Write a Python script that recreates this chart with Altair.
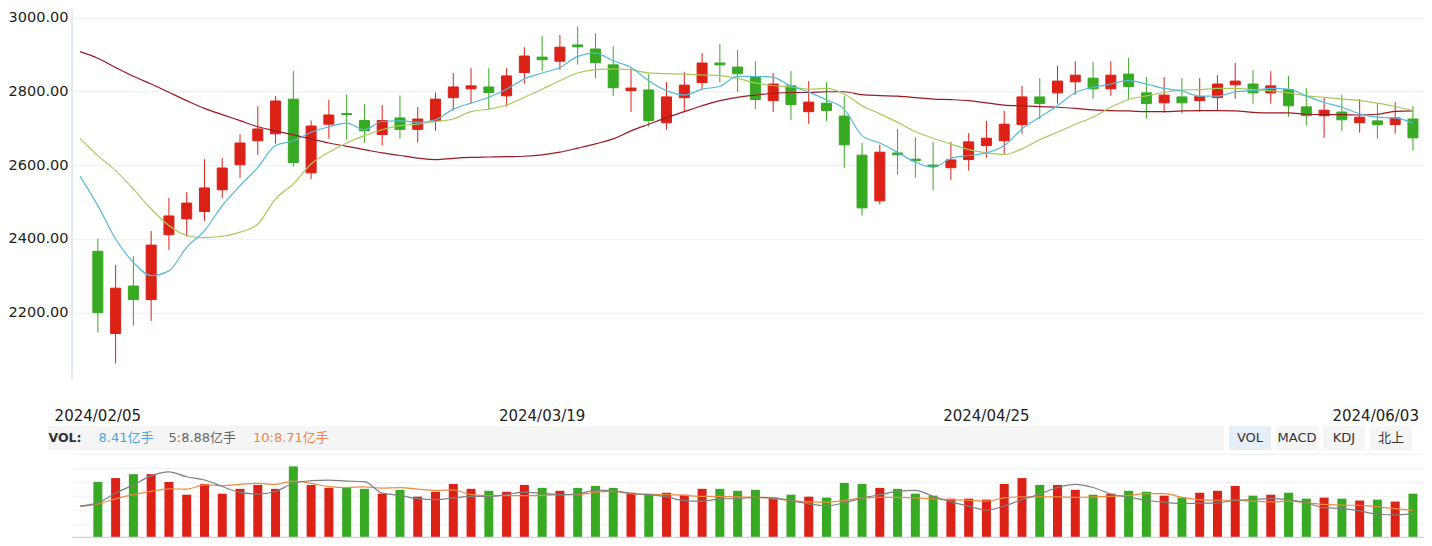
import altair as alt
import pandas as pd

# ---------------- data ----------------
dates = [
    "2024/02/05", "2024/02/06", "2024/02/07", "2024/02/08", "2024/02/19", "2024/02/20", "2024/02/21", "2024/02/22",
    "2024/02/23", "2024/02/26", "2024/02/27", "2024/02/28", "2024/02/29", "2024/03/01", "2024/03/04", "2024/03/05",
    "2024/03/06", "2024/03/07", "2024/03/08", "2024/03/11", "2024/03/12", "2024/03/13", "2024/03/14", "2024/03/15",
    "2024/03/18", "2024/03/19", "2024/03/20", "2024/03/21", "2024/03/22", "2024/03/25", "2024/03/26", "2024/03/27",
    "2024/03/28", "2024/03/29", "2024/04/01", "2024/04/02", "2024/04/03", "2024/04/08", "2024/04/09", "2024/04/10",
    "2024/04/11", "2024/04/12", "2024/04/15", "2024/04/16", "2024/04/17", "2024/04/18", "2024/04/19", "2024/04/22",
    "2024/04/23", "2024/04/24", "2024/04/25", "2024/04/26", "2024/04/29", "2024/04/30", "2024/05/06", "2024/05/07",
    "2024/05/08", "2024/05/09", "2024/05/10", "2024/05/13", "2024/05/14", "2024/05/15", "2024/05/16", "2024/05/17",
    "2024/05/20", "2024/05/21", "2024/05/22", "2024/05/23", "2024/05/24", "2024/05/27", "2024/05/28", "2024/05/29",
    "2024/05/30", "2024/05/31", "2024/06/03",
]

open_ = [2366, 2143, 2272, 2235, 2411, 2454, 2474, 2533, 2601, 2666,
         2685, 2779, 2579, 2711, 2740, 2721, 2683, 2728, 2697, 2720,
         2783, 2807, 2812, 2788, 2851, 2893, 2882, 2926, 2915, 2872,
         2802, 2804, 2715, 2783, 2824, 2877, 2866, 2839, 2775, 2815,
         2745, 2768, 2733, 2627, 2503, 2633, 2616, 2600, 2593, 2615,
         2653, 2666, 2710, 2785, 2796, 2826, 2836, 2807, 2847, 2796,
         2769, 2785, 2775, 2783, 2818, 2820, 2796, 2805, 2758, 2734,
         2744, 2715, 2720, 2710, 2725]
high = [2400, 2329, 2353, 2421, 2511, 2527, 2616, 2619, 2684, 2760,
        2787, 2855, 2721, 2777, 2792, 2765, 2763, 2789, 2758, 2797,
        2850, 2863, 2863, 2863, 2920, 2950, 2953, 2977, 2958, 2923,
        2863, 2847, 2825, 2853, 2904, 2929, 2912, 2882, 2850, 2855,
        2828, 2825, 2787, 2660, 2655, 2698, 2676, 2663, 2663, 2687,
        2720, 2747, 2815, 2836, 2869, 2882, 2880, 2882, 2891, 2839,
        2839, 2836, 2836, 2844, 2877, 2858, 2855, 2842, 2809, 2783,
        2790, 2779, 2768, 2771, 2760]
low = [2146, 2062, 2164, 2177, 2370, 2406, 2449, 2511, 2565, 2628,
       2658, 2596, 2562, 2672, 2669, 2661, 2653, 2672, 2661, 2693,
       2748, 2767, 2751, 2759, 2821, 2855, 2858, 2873, 2836, 2788,
       2744, 2704, 2696, 2746, 2805, 2824, 2798, 2752, 2744, 2722,
       2712, 2720, 2593, 2463, 2493, 2574, 2566, 2531, 2560, 2585,
       2620, 2630, 2685, 2725, 2767, 2791, 2780, 2788, 2780, 2726,
       2742, 2740, 2745, 2748, 2780, 2767, 2767, 2731, 2707, 2674,
       2693, 2688, 2672, 2685, 2639]
close = [2200, 2266, 2235, 2383, 2462, 2497, 2538, 2592, 2660, 2698,
         2774, 2607, 2706, 2736, 2737, 2693, 2721, 2697, 2725, 2779,
         2812, 2815, 2797, 2842, 2896, 2886, 2920, 2921, 2878, 2810,
         2809, 2721, 2785, 2817, 2877, 2872, 2848, 2778, 2820, 2764,
         2771, 2748, 2655, 2484, 2635, 2628, 2612, 2596, 2614, 2663,
         2673, 2711, 2785, 2767, 2828, 2844, 2807, 2844, 2813, 2767,
         2790, 2769, 2786, 2820, 2828, 2796, 2815, 2761, 2734, 2749,
         2723, 2730, 2710, 2728, 2674]
volume = [10.00, 10.70, 11.40, 11.40, 10.00, 7.73, 9.65, 7.91, 8.78, 9.48,
          8.78, 12.79, 9.48, 8.95, 8.95, 8.78, 7.91, 8.60, 7.38, 8.26,
          9.65, 8.78, 8.43, 8.26, 9.48, 8.95, 8.43, 8.95, 9.30, 8.95,
          8.08, 7.91, 8.08, 7.73, 8.78, 8.78, 8.43, 8.60, 7.21, 7.73,
          7.38, 7.21, 9.83, 9.65, 8.95, 8.78, 7.91, 7.56, 7.03, 7.03,
          6.86, 9.65, 10.70, 9.48, 9.48, 8.60, 7.73, 7.91, 8.43, 8.26,
          7.56, 7.21, 8.08, 8.43, 9.30, 7.56, 7.73, 8.08, 7.03, 7.21,
          7.03, 6.69, 6.86, 6.51, 7.91]

# moving averages, first value = previous trading day (index -1)
ma5 = [2569.5,
       2490, 2399.5, 2336, 2300, 2313, 2377, 2422, 2490, 2544, 2594,
       2653, 2666, 2689, 2704, 2714, 2696, 2719, 2720, 2716, 2723,
       2752, 2768, 2784, 2806, 2834, 2850, 2865, 2895, 2904, 2883,
       2865, 2829, 2802, 2790, 2806, 2814, 2841, 2841, 2838, 2814,
       2798, 2777, 2752, 2680, 2660, 2635, 2608, 2594, 2618, 2626,
       2633, 2653, 2698, 2730, 2761, 2797, 2811, 2820, 2829, 2820,
       2808, 2801, 2787, 2787, 2799, 2802, 2808, 2806, 2788, 2770,
       2757, 2739, 2730, 2728, 2714]
ma10 = [2672.6,
        2625.6, 2585, 2535, 2481, 2436, 2409, 2403, 2407, 2418, 2440,
        2508, 2549, 2603, 2635, 2660, 2680, 2696, 2707, 2711, 2718,
        2725, 2745, 2752, 2763, 2784, 2806, 2829, 2850, 2859, 2861,
        2859, 2850, 2848, 2847, 2844.5, 2843, 2835.5, 2823, 2816, 2812,
        2806, 2808, 2793, 2761, 2739, 2716, 2691, 2673, 2657, 2642,
        2633, 2629, 2644, 2669, 2689, 2711, 2730, 2757, 2778, 2788,
        2797, 2804, 2805, 2808, 2808, 2805, 2802, 2796, 2788, 2784,
        2779, 2775, 2768, 2759, 2748]
ma60 = [2907.8,
        2890, 2865, 2841, 2820, 2797.5, 2775, 2754, 2737, 2720.5, 2704,
        2693, 2682, 2671, 2660, 2651, 2642, 2633, 2626, 2619, 2615,
        2618.5, 2621, 2622, 2623, 2624, 2627.5, 2635, 2646, 2657.6, 2671,
        2693, 2711, 2729, 2745, 2761, 2775, 2784, 2790, 2795, 2797,
        2797, 2799, 2799, 2791, 2788.5, 2787, 2783, 2779, 2777.6, 2775,
        2769, 2763, 2761, 2758.5, 2757, 2754, 2750, 2747.6, 2747, 2745,
        2745, 2747, 2747.6, 2747.6, 2747, 2743, 2741.5, 2741.5, 2738, 2737,
        2737, 2736, 2738, 2746, 2747]
vol_ma5 = [5.70,
           6.28, 8.02, 9.48, 11.10, 11.80, 10.93, 10.35, 9.19, 8.14, 7.85,
           8.31, 9.77, 10.23, 10.35, 10.17, 10.06, 8.02, 7.62, 7.03, 6.86,
           7.15, 7.44, 7.44, 7.73, 8.20, 7.97, 7.73, 7.85, 8.55, 8.43,
           7.97, 7.73, 7.33, 6.69, 6.57, 6.98, 7.03, 7.27, 7.15, 6.69,
           6.10, 5.76, 6.28, 7.15, 7.73, 8.31, 8.49, 7.44, 6.45, 5.70,
           5.00, 5.70, 6.86, 7.85, 9.01, 9.59, 9.01, 7.85, 7.27, 6.74,
           6.40, 6.16, 6.22, 6.28, 6.74, 6.86, 7.03, 6.86, 6.28, 5.41,
           5.29, 4.83, 4.24, 4.13, 4.36]
vol_ma10 = [5.70,
            6.10, 6.98, 7.73, 8.31, 8.78, 8.72, 9.48, 9.36, 9.59, 9.77,
            9.59, 10.17, 9.77, 9.19, 9.01, 9.13, 8.90, 9.01, 8.72, 8.49,
            8.60, 7.73, 7.56, 7.56, 7.56, 7.62, 7.73, 7.73, 8.20, 8.31,
            7.91, 7.73, 7.73, 7.62, 7.44, 7.44, 7.33, 7.27, 7.03, 6.69,
            6.45, 6.40, 6.69, 7.15, 7.27, 7.27, 7.15, 6.98, 6.86, 6.74,
            6.57, 7.15, 7.33, 7.33, 7.33, 7.27, 7.33, 7.44, 7.62, 7.91,
            7.91, 7.27, 6.86, 6.74, 6.74, 6.57, 6.45, 6.57, 6.28, 5.99,
            5.87, 5.81, 5.58, 5.23, 4.94]

price_ticks = [2200, 2400, 2600, 2800, 3000]
vol_grid = [2.5, 5, 7.5, 10, 12.5, 15]
label_dates = ["2024/02/05", "2024/03/19", "2024/04/25", "2024/06/03"]
header_texts = ["VOL:", "8.41亿手", "5:8.88亿手", "10:8.71亿手"]
button_texts = ["VOL", "MACD", "KDJ", "北上"]

# ---------------- styling ----------------
RED = "#dc2117"
GREEN = "#38a923"
C_MA5 = "#55b9dc"
C_MA10 = "#a6c95b"
C_MA60 = "#9b1a22"
C_VMA5 = "#7f7f7f"
C_VMA10 = "#ee8a3c"
FONT = "DejaVu Sans, Noto Sans CJK SC, sans-serif"

W, H = 1352, 530
X0, Y0 = 72, 8  # page position of the plot origin


def px(x):
    return x - X0


def py(y):
    return y - Y0


xs = alt.Scale(domain=[-1.173, 74.34], nice=False, zero=False)
ps = alt.Scale(domain=[1588.1, 3026.3], nice=False, zero=False)
vs = alt.Scale(domain=[0, 94.64], nice=False, zero=False)
cs = alt.Scale(domain=["up", "down"], range=[RED, GREEN])

cdf = pd.DataFrame({"idx": list(range(len(dates))), "date": dates, "open": open_,
                    "high": high, "low": low, "close": close, "vol": volume})
cdf["dir"] = ["up" if c >= o else "down" for o, c in zip(open_, close)]
ldf = pd.DataFrame({"idx": list(range(-1, len(dates))), "ma5": ma5, "ma10": ma10,
                    "ma60": ma60, "vma5": vol_ma5, "vma10": vol_ma10})
one = pd.DataFrame({"k": [0]})

X = alt.X("idx:Q", scale=xs, axis=None)
COL = alt.Color("dir:N", scale=cs, legend=None)

price_axis = alt.Axis(values=price_ticks, format=".2f", grid=True, gridColor="#f0f2f6",
                      gridWidth=1.5, domain=False, ticks=False, tickSize=0, labelPadding=4,
                      labelFont=FONT, labelFontSize=14.5, labelColor="#222", title=None)
vol_axis = alt.Axis(orient="right", values=vol_grid, grid=True, gridColor="#f1f3f6",
                    gridWidth=1.3, domain=False, ticks=False, labels=False, title=None)

layers = []
# volume bars
layers.append(alt.Chart(cdf).mark_bar(size=9).encode(
    x=X, y=alt.Y("vol:Q", scale=vs, axis=vol_axis), color=COL))
# candle wicks
layers.append(alt.Chart(cdf).mark_rule(strokeWidth=1).encode(
    x=X, y=alt.Y("low:Q", scale=ps, axis=price_axis), y2="high:Q", color=COL))
# candle bodies
layers.append(alt.Chart(cdf).mark_bar(size=10, strokeWidth=1).encode(
    x=X, y=alt.Y("open:Q", scale=ps, axis=None), y2="close:Q", color=COL,
    stroke=alt.Stroke("dir:N", scale=cs, legend=None)))
# price moving averages
for col, c in [("ma60", C_MA60), ("ma10", C_MA10), ("ma5", C_MA5)]:
    layers.append(alt.Chart(ldf).mark_line(interpolate="monotone", strokeWidth=1.2, color=c).encode(
        x=X, y=alt.Y(f"{col}:Q", scale=ps, axis=None)))
# volume moving averages
for col, c in [("vma10", C_VMA10), ("vma5", C_VMA5)]:
    layers.append(alt.Chart(ldf).mark_line(interpolate="monotone", strokeWidth=1.2, color=c).encode(
        x=X, y=alt.Y(f"{col}:Q", scale=vs, axis=None)))

# axis lines
layers.append(alt.Chart(one).mark_rule(color="#c5d6ec", strokeWidth=1).encode(
    x=alt.value(0), y=alt.value(py(9)), y2=alt.value(py(380))))
layers.append(alt.Chart(one).mark_rule(color="#c5d6ec", strokeWidth=1.5).encode(
    x=alt.value(0), x2=alt.value(W), y=alt.value(H - 0.5)))

# date labels
ldates = cdf[cdf["date"].isin(label_dates)]
layers.append(alt.Chart(ldates.iloc[:-1]).mark_text(
    align="center", baseline="middle", font=FONT, fontSize=15, color="#222").encode(
    x=X, y=alt.value(py(415.5)), text="date:N"))
layers.append(alt.Chart(ldates.iloc[-1:]).mark_text(
    align="right", baseline="middle", dx=6, font=FONT, fontSize=15, color="#222").encode(
    x=X, y=alt.value(py(415.5)), text="date:N"))

# indicator header bar
HY1, HY2 = py(426), py(450)
layers.append(alt.Chart(one).mark_rect(color="#f5f5f5").encode(
    x=alt.value(px(48)), x2=alt.value(px(1224)), y=alt.value(HY1), y2=alt.value(HY2)))
btn_x = [(1229, 1271), (1276, 1318), (1323, 1365), (1370, 1412)]
for i, (bx1, bx2) in enumerate(btn_x):
    layers.append(alt.Chart(one).mark_rect(color="#e6eef8" if i == 0 else "#f5f5f5").encode(
        x=alt.value(px(bx1)), x2=alt.value(px(bx2)), y=alt.value(HY1), y2=alt.value(HY2)))
    layers.append(alt.Chart(one).mark_text(
        align="center", baseline="middle", font=FONT, fontSize=13, color="#333").encode(
        x=alt.value(px((bx1 + bx2) / 2)), y=alt.value((HY1 + HY2) / 2), text=alt.value(button_texts[i])))

hx = [48.5, 98.5, 168.5, 253]
hcol = ["#333333", "#4aa9d6", "#666666", "#ef8546"]
for i, t in enumerate(header_texts):
    layers.append(alt.Chart(one).mark_text(
        align="left", baseline="middle", font=FONT, fontSize=12.5 if i == 0 else 13,
        fontWeight="bold" if i == 0 else "normal", color=hcol[i]).encode(
        x=alt.value(px(hx[i])), y=alt.value((HY1 + HY2) / 2), text=alt.value(t)))

chart = alt.layer(*layers).resolve_scale(y="independent").properties(
    width=W, height=H,
    autosize=alt.AutoSizeParams(type="none"),
    padding={"left": X0 - 8, "top": 0, "right": 0, "bottom": 0},
).configure_view(stroke=None)

chart.save("out.html", embed_options={"renderer": "svg", "actions": False})
